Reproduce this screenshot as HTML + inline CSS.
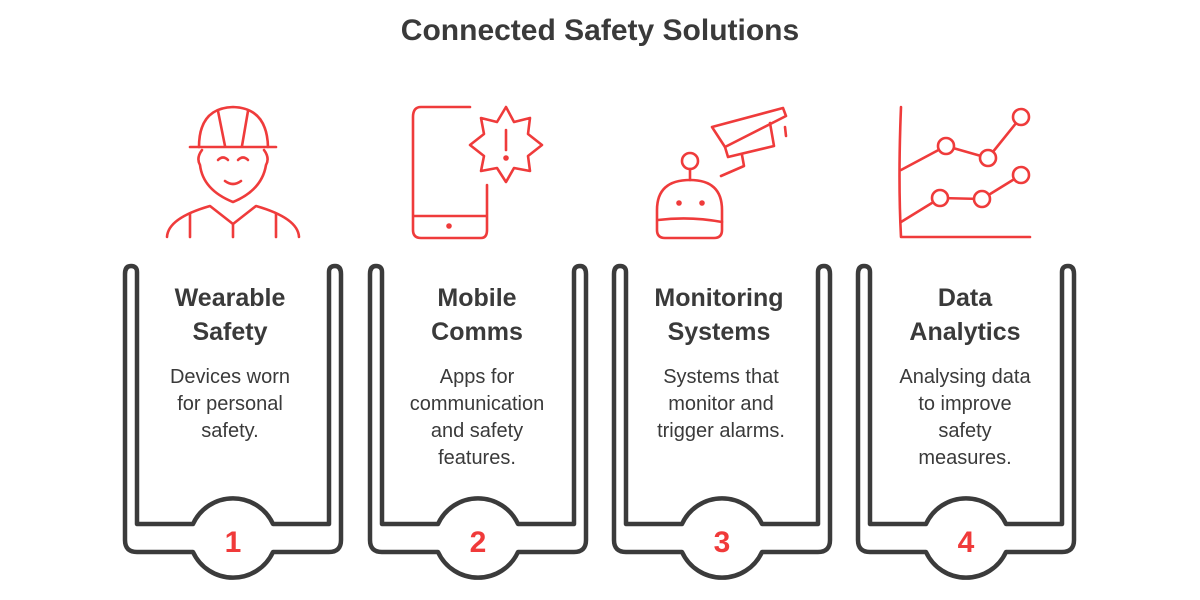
<!DOCTYPE html>
<html><head><meta charset="utf-8"><style>
body{margin:0;width:1200px;height:600px;background:#fff;overflow:hidden;font-family:"Liberation Sans",sans-serif}
svg{position:absolute;left:0;top:0}
</style></head><body>
<svg width="1200" height="600" viewBox="0 0 1200 600">
<defs>
<g id="fr" fill="none" stroke="#3b3b3b" stroke-width="4.5" stroke-linejoin="round" stroke-linecap="round">
<path d="M-40,524 L-96,524 L-96,272 Q-96,266 -102,266 Q-108,266 -108,274 L-108,540 Q-108,552 -96,552 L-40,552 A44,44 0 0 0 40,552 L96,552 Q108,552 108,540 L108,274 Q108,266 102,266 Q96,266 96,272 L96,524 L40,524 A44,44 0 0 0 -40,524"/>
</g>
</defs>
<text x="600" y="40" text-anchor="middle" font-size="30" font-weight="bold" fill="#3a3a3a">Connected Safety Solutions</text>
<use href="#fr" x="233"/><use href="#fr" x="478"/><use href="#fr" x="722"/><use href="#fr" x="966"/>
<g font-size="25" font-weight="bold" fill="#3a3a3a" text-anchor="middle">
<text x="230" y="306">Wearable</text><text x="230" y="340">Safety</text>
<text x="477" y="306">Mobile</text><text x="477" y="340">Comms</text>
<text x="719" y="306">Monitoring</text><text x="719" y="340">Systems</text>
<text x="965" y="306">Data</text><text x="965" y="340">Analytics</text>
</g>
<g font-size="20" fill="#3a3a3a" text-anchor="middle">
<text x="230" y="383">Devices worn</text><text x="230" y="410">for personal</text><text x="230" y="437">safety.</text>
<text x="477" y="383">Apps for</text><text x="477" y="410">communication</text><text x="477" y="437">and safety</text><text x="477" y="464">features.</text>
<text x="721" y="383">Systems that</text><text x="721" y="410">monitor and</text><text x="721" y="437">trigger alarms.</text>
<text x="965" y="383">Analysing data</text><text x="965" y="410">to improve</text><text x="965" y="437">safety</text><text x="965" y="464">measures.</text>
</g>
<g font-size="30" font-weight="bold" fill="#f03a3a" text-anchor="middle">
<text x="233" y="552">1</text><text x="478" y="552">2</text><text x="722" y="552">3</text><text x="966" y="552">4</text>
</g>
<g fill="none" stroke="#ef3b3b" stroke-width="2.6" stroke-linecap="round" stroke-linejoin="round">
<path d="M199,147 Q199,108 233,107 Q267,108 268,147"/>
<path d="M190,147 L276,147"/>
<path d="M218,111 L225,146 M248,111 L242,146"/>
<path d="M202,150 Q196,158 200,165 Q203,190 233,202 Q262,190 266,165 Q270,158 264,150"/>
<path d="M218,160 Q223,155 228,160 M238,160 Q243,155 248,160 M225,181 Q233,187 241,181"/>
<path d="M167,237 Q168,218 210,206 L233,224 L256,206 Q298,218 299,237"/>
<path d="M190,214 L190,237 M276,214 L276,237 M233,224 L233,237"/>
<path d="M470,107 L421,107 Q413,107 413,117 L413,230 Q413,238 421,238 L481,238 Q487,238 487,230 L487,185"/>
<path d="M414,216 L486,216"/>
<circle cx="449" cy="226" r="1.5" fill="#ef3b3b"/>
<path d="M506,107 L514,122 L530,118 L528,134 L542,145 L528,156 L530,171 L514,168 L506,182 L497,168 L481,171 L484,156 L470,145 L484,134 L481,118 L497,122 Z"/>
<path d="M506,130 L506,150"/><circle cx="506" cy="158" r="1.5" fill="#ef3b3b"/>
<circle cx="690" cy="161" r="8"/>
<path d="M690,169 L690,180"/>
<path d="M657,230 L657,210 Q657,180 690,180 Q722,180 722,210 L722,230 Q722,238 714,238 L665,238 Q657,238 657,230 Z"/>
<path d="M658,220 Q690,216 722,222"/>
<circle cx="679" cy="203" r="1.5" fill="#ef3b3b"/><circle cx="702" cy="203" r="1.5" fill="#ef3b3b"/>
<path d="M712,127 L783,108 L786,116 L725,147 Z"/>
<path d="M725,147 L728,157 L774,146 L770,123"/>
<path d="M742,155 L744,166 L721,176"/>
<path d="M785,127 L786,136"/>
<path d="M901,107 Q898,180 901,237 L1030,237"/>
<path d="M901,170 L946,146 L988,158 L1021,117"/>
<path d="M901,222 L940,198 L982,199 L1021,175"/>
</g>
<g fill="#fff" stroke="#ef3b3b" stroke-width="2.6">
<circle cx="946" cy="146" r="8"/><circle cx="988" cy="158" r="8"/><circle cx="1021" cy="117" r="8"/>
<circle cx="940" cy="198" r="8"/><circle cx="982" cy="199" r="8"/><circle cx="1021" cy="175" r="8"/>
</g>
</svg>
</body></html>
